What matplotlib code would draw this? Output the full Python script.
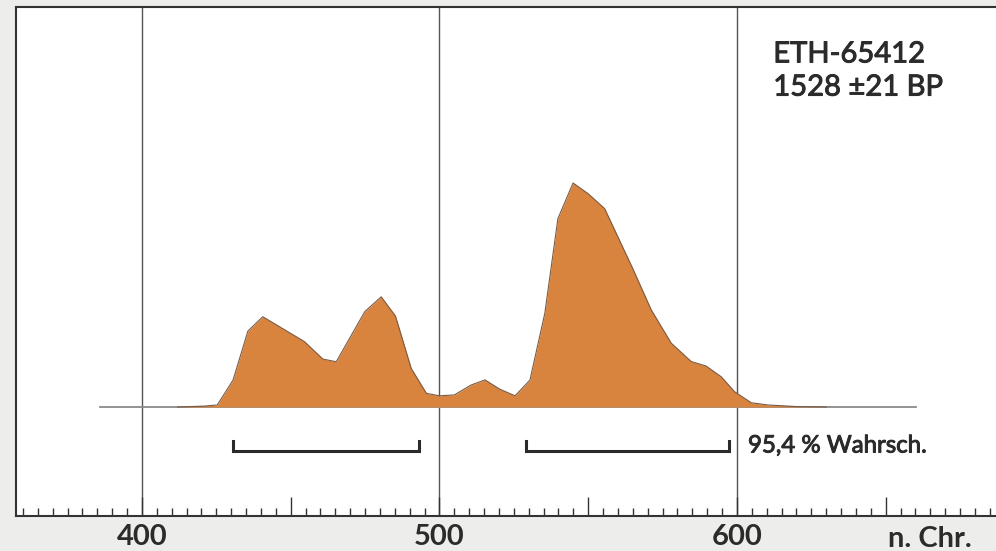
import matplotlib.pyplot as plt
import matplotlib.patheffects as pe
from matplotlib.ticker import MultipleLocator

# Calibrated probability distribution (peak = 1)
years = [412, 420.8, 425.3, 430.6, 435.6, 440.6, 454.6, 460.8, 465.3, 474.9,
         480.4, 485.2, 490.5, 495.6, 500.0, 505.0, 510.6, 515.3, 520.2, 525.4,
         530.4, 535.4, 539.8, 544.9, 549.9, 555.5, 565.0, 571.2, 577.9, 584.6,
         589.6, 594.7, 599.2, 604.8, 610.4, 620.0, 630.0]
density = [0.0, 0.004, 0.009, 0.12, 0.339, 0.403, 0.292, 0.214, 0.202, 0.426,
           0.492, 0.406, 0.172, 0.061, 0.050, 0.054, 0.098, 0.121, 0.080, 0.050,
           0.120, 0.418, 0.841, 1.0, 0.953, 0.886, 0.617, 0.433, 0.285, 0.203,
           0.183, 0.135, 0.068, 0.019, 0.009, 0.002, 0.0]

# 95.4 % ranges
ranges = [(430.5, 493.1), (529.2, 597.4)]
baseline_span = (385.9, 660.2)

lab_id = "ETH-65412"
lab_age = "1528 ±21 BP"
range_label = "95,4 % Wahrsch."
tick_years = [400, 450, 500, 550, 600, 650]
tick_labels = ["400", "", "500", "", "600", ""]

plt.rcParams['font.family'] = ['Lato', 'DejaVu Sans']
txt = '#2b2b2b'
# fake a medium weight: regular face with a thin outline
medium = [pe.withStroke(linewidth=0.7, foreground=txt)]

fig = plt.figure(figsize=(9.96, 5.51), dpi=100)
fig.patch.set_facecolor('#ededeb')
ax = fig.add_axes([16 / 996, 35 / 551, 1.0, 509 / 551])
ax.set_facecolor('white')
ax.set_xlim(357.65, 357.65 + 996 / 2.975)
ax.set_ylim(-0.4866, 1.7857)

# vertical century lines
for yr in (400, 500, 600):
    ax.axvline(yr, color='#555555', lw=1.0, zorder=1)

# baseline and distribution
ax.plot(baseline_span, [0, 0], color='#8a8a8a', lw=1.3, zorder=2)
ax.fill_between(years, density, 0, color='#d8843f', lw=0, zorder=3)
ax.plot(years, density, color='#7a5a42', lw=0.8, zorder=4)

# range brackets
for a, b in ranges:
    ax.plot([a, a, b, b], [-0.152, -0.196, -0.196, -0.152], color=txt,
            lw=2.2, solid_joinstyle='miter', zorder=5)

ax.text(603.7, -0.174, range_label, fontsize=17.3, color=txt,
        va='center', ha='left', path_effects=medium)
ax.text(612.2, 1.574, lab_id, fontsize=21, color=txt,
        va='center', ha='left', path_effects=medium)
ax.text(612.2, 1.426, lab_age, fontsize=21, color=txt,
        va='center', ha='left', path_effects=medium)

# axis styling
for side in ('left', 'top', 'bottom'):
    ax.spines[side].set_color('#333333')
    ax.spines[side].set_linewidth(1.5)
ax.spines['right'].set_visible(False)
ax.set_yticks([])
ax.set_xticks(tick_years, tick_labels)
ax.xaxis.set_minor_locator(MultipleLocator(5))
ax.tick_params(axis='x', which='major', direction='in', length=13.5, width=1,
               color='#333333', pad=6, labelsize=21, labelcolor=txt)
ax.tick_params(axis='x', which='minor', direction='in', length=5.8, width=1,
               color='#333333')
for lbl in ax.get_xticklabels():
    lbl.set_fontweight('bold')

ax.text(664.9, -0.4866 - 10 / 224, "n. Chr.", fontsize=21, fontweight='bold',
        color=txt, ha='center', va='top')

fig.savefig('out.png', dpi=100)
